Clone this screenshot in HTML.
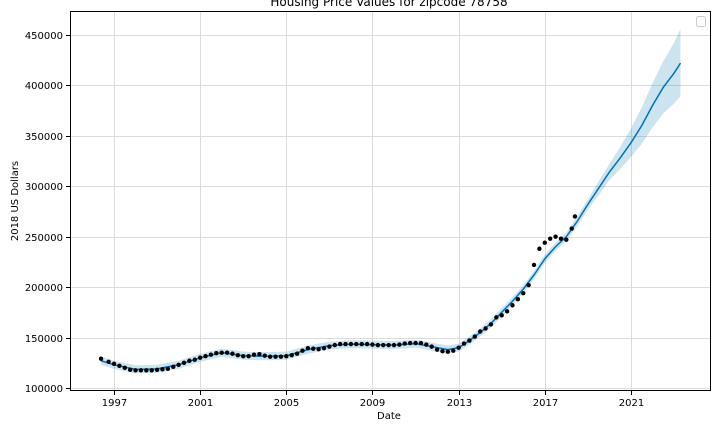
<!DOCTYPE html>
<html><head><meta charset="utf-8"><style>
body{margin:0;background:#fff;}
svg text{font-family:"DejaVu Sans","Liberation Sans",sans-serif;fill:#000;}
</style></head><body>
<svg id="chart" width="720" height="432">
<text x="389" y="6" font-size="12" text-anchor="middle">Housing Price Values for zipcode 78758</text>
<g id="grid"></g>
<g id="band"></g>
<g id="line"></g>
<g id="dots"></g>
<rect x="70.5" y="11.5" width="640" height="379" fill="none" stroke="#000" stroke-width="1"/>
<g id="axes"></g>
<rect x="696.5" y="16.5" width="9" height="10" rx="2" fill="#fff" stroke="#ccc"/>
<text x="389" y="419" font-size="10" text-anchor="middle">Date</text>
<text transform="translate(18,201) rotate(-90)" font-size="10" text-anchor="middle">2018 US Dollars</text>
</svg>
<script>
const obsDates=[1996.4,1996.75,1997,1997.25,1997.5,1997.75,1998,1998.25,1998.5,1998.75,1999,1999.25,1999.5,1999.75,2000,2000.25,2000.5,2000.75,2001,2001.25,2001.5,2001.75,2002,2002.25,2002.5,2002.75,2003,2003.25,2003.5,2003.75,2004,2004.25,2004.5,2004.75,2005,2005.25,2005.5,2005.75,2006,2006.25,2006.5,2006.75,2007,2007.25,2007.5,2007.75,2008,2008.25,2008.5,2008.75,2009,2009.25,2009.5,2009.75,2010,2010.25,2010.5,2010.75,2011,2011.25,2011.5,2011.75,2012,2012.25,2012.5,2012.75,2013,2013.25,2013.5,2013.75,2014,2014.25,2014.5,2014.75,2015,2015.25,2015.5,2015.75,2016,2016.25,2016.5,2016.75,2017,2017.25,2017.5,2017.75,2018,2018.25,2018.4];
const obsValues=[129,126,124,122,120,118,117.5,117.5,117.5,117.5,118,118.5,119,121,123,125,127,128,130,131.5,133,134.5,135,135,134,132.5,131.5,131.5,133,133.5,132,131,131,131,131.5,132.5,134,137,139.5,139,138.5,139.5,141,142.5,143.5,143.5,143.5,143.5,143.5,143.5,143,142.5,142.5,142.5,142.5,143,144,144.5,144.5,144.5,143,141,138,136.5,136,137,140,144,147,151,156,159,163,170,172,176,182,188,194,202,222,238,244,248,250,248,247,258,270];
const fcDates=[1996.4,1997,1998,1999,2000,2001,2002,2003,2004,2005,2006,2007,2008,2009,2010,2011,2012,2012.5,2013,2013.5,2014,2014.5,2015,2015.5,2016,2016.5,2017,2017.5,2018,2018.5,2019,2019.5,2020,2020.5,2021,2021.5,2022,2022.5,2023,2023.3];
const fcYhat=[127,123,118.5,119,123,130,135,132,131.5,132,138,142,143.5,143,142.5,144,140,138,140,147,155,164,175,186,198,212,228,240,250,265,282,298,314,328,343,360,380,398,412,422];
const fcLower=[123,119,114.5,115,119,126,131,128,127.5,128,134,138,139.5,139,138.5,140,136,134,136,143,151,160,171,182,194,208,224,236,246,260,277,291,306,317,329,342,358,372,382,389];
const fcUpper=[131,127,122.5,123,127,134,139,136,135.5,136,142,146,147.5,147,146.5,148,144,142,144,151,159,168,179,190,202,216,232,244,254,270,287,305,322,339,357,378,402,424,442,456];
const yTicks=[100000,150000,200000,250000,300000,350000,400000,450000];
const xTicks=[1997,2001,2005,2009,2013,2017,2021];
const X=t=>114+(t-1997)*21.54;
const Y=v=>388-(v-100000)*50.45/50000;
const ns="http://www.w3.org/2000/svg";
function mk(tag,attrs,parent){const e=document.createElementNS(ns,tag);for(const k in attrs)e.setAttribute(k,attrs[k]);document.getElementById(parent).appendChild(e);return e;}
yTicks.forEach(v=>{const y=Math.round(Y(v))+0.5;
 const g=mk('line',{x1:70,x2:710,y1:y,y2:y,stroke:'#dcdcdc','stroke-width':1},'grid');
 
 
 const t=mk('line',{x1:66,x2:70,y1:y,y2:y,stroke:'#000'},'axes');
 
 
 const l=mk('text',{x:63,y:y+3.5,'font-size':10,'text-anchor':'end'},'axes');l.textContent=v;
 
 
});
xTicks.forEach(d=>{const x=Math.round(X(d))+0.5;
 const g=mk('line',{x1:x,x2:x,y1:11,y2:390,stroke:'#dcdcdc','stroke-width':1},'grid');
 
 
 const t=mk('line',{x1:x,x2:x,y1:391,y2:395,stroke:'#000'},'axes');
 
 
 const l=mk('text',{x:x,y:406,'font-size':10,'text-anchor':'middle'},'axes');l.textContent=d;
 
 
});
let up=fcDates.map((d,i)=>X(d)+','+Y(fcUpper[i]*1000));
let lo=fcDates.map((d,i)=>X(d)+','+Y(fcLower[i]*1000)).reverse();
const band=mk('polygon',{points:up.concat(lo).join(' '),fill:'#0072B2','fill-opacity':0.2},'band');


const ln=mk('polyline',{points:fcDates.map((d,i)=>X(d)+','+Y(fcYhat[i]*1000)).join(' '),fill:'none',stroke:'#0072B2','stroke-width':1.5},'line');


obsDates.forEach((d,i)=>{const c=mk('circle',{cx:X(d),cy:Y(obsValues[i]*1000),r:2.2,fill:'#000'},'dots');
 
 
});
</script>
</body></html>
